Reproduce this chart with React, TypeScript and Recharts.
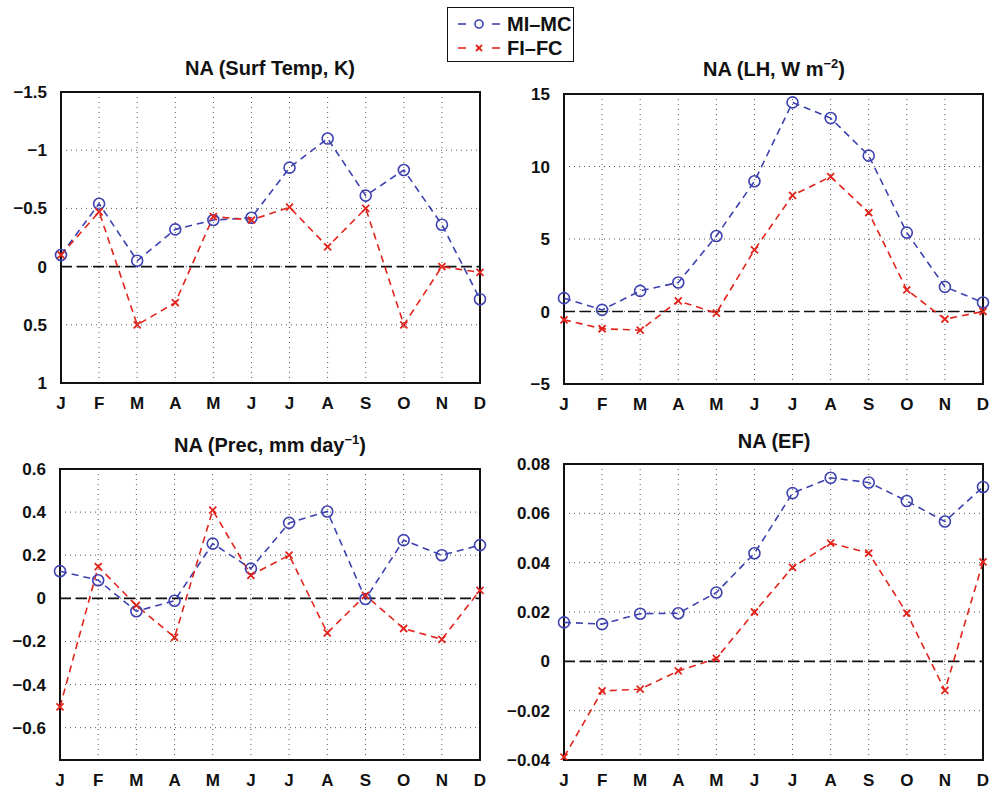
import React from 'react';
import {
  LineChart, Line, XAxis, YAxis, CartesianGrid, ReferenceLine, ReferenceArea,
} from 'recharts';

const MONTHS = ['Jan', 'Feb', 'Mar', 'Apr', 'May', 'Jun', 'Jul', 'Aug', 'Sep', 'Oct', 'Nov', 'Dec'];
const MONTH_LABELS = ['J', 'F', 'M', 'A', 'M', 'J', 'J', 'A', 'S', 'O', 'N', 'D'];

// surface temperature (K), plotted on a reversed axis
const TEMP_MI_MC = [-0.1, -0.54, -0.05, -0.32, -0.4, -0.42, -0.85, -1.1, -0.61, -0.83, -0.36, 0.28];
const TEMP_FI_FC = [-0.1, -0.47, 0.5, 0.31, -0.43, -0.4, -0.51, -0.17, -0.5, 0.5, 0, 0.05];
const TEMP_TICKS = [-1.5, -1, -0.5, 0, 0.5, 1];

// latent heat (W m-2)
const LH_MI_MC = [0.92, 0.11, 1.42, 2.0, 5.21, 8.98, 14.42, 13.34, 10.75, 5.44, 1.7, 0.62];
const LH_FI_FC = [-0.57, -1.19, -1.29, 0.73, -0.11, 4.25, 8.01, 9.3, 6.82, 1.49, -0.53, 0.0];
const LH_TICKS = [-5, 0, 5, 10, 15];

// precipitation (mm day-1)
const PREC_MI_MC = [0.126, 0.084, -0.06, -0.011, 0.254, 0.138, 0.35, 0.403, -0.003, 0.27, 0.2, 0.247];
const PREC_FI_FC = [-0.504, 0.147, -0.033, -0.181, 0.409, 0.107, 0.2, -0.16, 0.014, -0.14, -0.19, 0.037];
const PREC_TICKS = [-0.6, -0.4, -0.2, 0, 0.2, 0.4, 0.6];

// evaporative fraction
const EF_MI_MC = [0.0158, 0.0151, 0.0193, 0.0195, 0.0279, 0.0438, 0.0682, 0.0744, 0.0725, 0.065, 0.0567, 0.0707];
const EF_FI_FC = [-0.0388, -0.012, -0.0113, -0.0039, 0.0012, 0.02, 0.0381, 0.0479, 0.0439, 0.0195, -0.0118, 0.0403];
const EF_TICKS = [-0.04, -0.02, 0, 0.02, 0.04, 0.06, 0.08];

const BLUE = '#3d42b0';
const RED = '#e2241c';
const FONT = '"Liberation Sans", Arial, Helvetica, sans-serif';

const CircleDot = (props: any) => {
  const { cx, cy, index } = props;
  if (cx == null || cy == null) return null;
  return <circle key={`c${index}`} cx={cx} cy={cy} r={5.5} fill="none" stroke={BLUE} strokeWidth={1.6} />;
};

const CrossDot = (props: any) => {
  const { cx, cy, index } = props;
  if (cx == null || cy == null) return null;
  const s = 3.5;
  return (
    <g key={`x${index}`} stroke={RED} strokeWidth={1.8}>
      <line x1={cx - s} y1={cy - s} x2={cx + s} y2={cy + s} />
      <line x1={cx - s} y1={cy + s} x2={cx + s} y2={cy - s} />
    </g>
  );
};

const fmtNum = (v: number) => String(v).replace('-', '\u2212');

interface PanelProps {
  left: number; top: number; w: number; h: number;
  mi: number[]; fi: number[];
  domain: [number, number]; ticks: number[];
  reversed?: boolean;
}

function Panel({ left, top, w, h, mi, fi, domain, ticks, reversed }: PanelProps) {
  const data = MONTHS.map((m, i) => ({ m, mi: mi[i], fi: fi[i] }));
  const tickStyle = { fontSize: 17, fontWeight: 700, fill: '#111', fontFamily: FONT };
  return (
    <div style={{ position: 'absolute', left: left - 60, top: top - 10 }}>
      <LineChart
        width={60 + w + 14}
        height={10 + h + 34}
        data={data}
        margin={{ top: 10, right: 14, left: 0, bottom: 0 }}
      >
        <CartesianGrid stroke="#555" strokeDasharray="1 4" strokeWidth={1} />
        <XAxis
          dataKey="m"
          height={34}
          tick={tickStyle}
          tickFormatter={(_v: string, i: number) => MONTH_LABELS[i]}
          tickLine={false}
          axisLine={false}
          tickMargin={8}
          interval={0}
        />
        <YAxis
          width={60}
          type="number"
          domain={domain}
          ticks={ticks}
          reversed={reversed}
          allowDataOverflow
          tick={tickStyle}
          tickFormatter={fmtNum}
          tickLine={false}
          axisLine={false}
          tickMargin={8}
        />
        <ReferenceLine y={0} stroke="#111" strokeWidth={1.6} strokeDasharray="11 5" />
        <Line
          dataKey="mi" stroke={BLUE} strokeWidth={1.6} strokeDasharray="7 5"
          dot={CircleDot} activeDot={false} isAnimationActive={false}
        />
        <Line
          dataKey="fi" stroke={RED} strokeWidth={1.6} strokeDasharray="7 5"
          dot={CrossDot} activeDot={false} isAnimationActive={false}
        />
        <ReferenceArea
          x1="Jan" x2="Dec" y1={domain[0]} y2={domain[1]}
          fill="none" stroke="#111" strokeWidth={2} fillOpacity={0} strokeOpacity={1}
        />
      </LineChart>
    </div>
  );
}

const titleStyle: React.CSSProperties = {
  position: 'absolute', fontFamily: FONT, fontWeight: 700, fontSize: 20, color: '#111',
  transform: 'translate(-50%, -50%)', whiteSpace: 'nowrap', lineHeight: '24px',
};
const supStyle: React.CSSProperties = { fontSize: 13, verticalAlign: 0, position: 'relative', top: -8 };

export default function App() {
  return (
    <div style={{ position: 'absolute', left: 0, top: 0, width: 996, height: 790, background: '#fff', fontFamily: FONT }}>
      <div style={{ ...titleStyle, left: 270, top: 68 }}>NA (Surf Temp, K)</div>
      <div style={{ ...titleStyle, left: 774, top: 70 }}>
        NA (LH, W m<span style={supStyle}>{'\u22122'}</span>)
      </div>
      <div style={{ ...titleStyle, left: 270, top: 446 }}>
        NA (Prec, mm day<span style={supStyle}>{'\u22121'}</span>)
      </div>
      <div style={{ ...titleStyle, left: 774, top: 441 }}>NA (EF)</div>

      <Panel left={61} top={92} w={419} h={291} mi={TEMP_MI_MC} fi={TEMP_FI_FC} domain={[-1.5, 1]} ticks={TEMP_TICKS} reversed />
      <Panel left={564} top={94} w={419} h={290} mi={LH_MI_MC} fi={LH_FI_FC} domain={[-5, 15]} ticks={LH_TICKS} />
      <Panel left={60} top={469} w={420} h={291} mi={PREC_MI_MC} fi={PREC_FI_FC} domain={[-0.75, 0.6]} ticks={PREC_TICKS} />
      <Panel left={564} top={464} w={419} h={296} mi={EF_MI_MC} fi={EF_FI_FC} domain={[-0.04, 0.08]} ticks={EF_TICKS} />

      {/* Legend */}
      <div style={{
        position: 'absolute', left: 447, top: 7, width: 125, height: 53,
        border: '1.5px solid #111', background: '#fff',
      }}>
        {[
          { color: BLUE, label: 'MI\u2013MC', marker: 'o', y: 16 },
          { color: RED, label: 'FI\u2013FC', marker: 'x', y: 40 },
        ].map(({ color, label, marker, y }) => (
          <div key={label}>
            <svg width={52} height={16} style={{ position: 'absolute', left: 8, top: y - 8 }}>
              <line x1={2} y1={8} x2={10} y2={8} stroke={color} strokeWidth={1.6} />
              <line x1={36} y1={8} x2={44} y2={8} stroke={color} strokeWidth={1.6} />
              {marker === 'o'
                ? <circle cx={23} cy={8} r={4} fill="none" stroke={color} strokeWidth={1.6} />
                : <g stroke={color} strokeWidth={1.8}>
                    <line x1={20} y1={5} x2={26} y2={11} />
                    <line x1={20} y1={11} x2={26} y2={5} />
                  </g>}
            </svg>
            <div style={{
              position: 'absolute', left: 59, top: y - 12, fontSize: 20, fontWeight: 700,
              lineHeight: '24px', color: '#111', whiteSpace: 'nowrap',
            }}>{label}</div>
          </div>
        ))}
      </div>
    </div>
  );
}
